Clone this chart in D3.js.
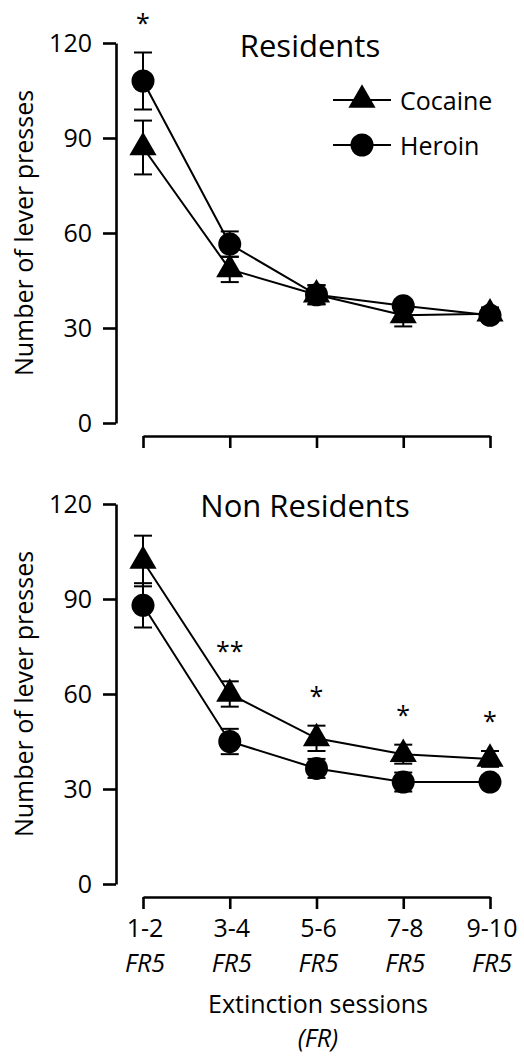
<!DOCTYPE html>
<html>
<head>
<meta charset="utf-8">
<script src="https://cdn.jsdelivr.net/npm/d3@7"></script>
<style>
  body { margin: 0; background: #fff; }
  text { font-family: "Open Sans", sans-serif; fill: #000; }
</style>
</head>
<body>
<div id="chart"></div>
<script>
// categories + ticks
var sessions = ["1-2", "3-4", "5-6", "7-8", "9-10"];
var schedule = ["FR5", "FR5", "FR5", "FR5", "FR5"];
var yTicks = [0, 30, 60, 90, 120];

// Residents
var resCocaine = [87, 48.5, 40.5, 34, 34.5];
var resCocaineErr = [8.5, 4, 3, 3.5, 2];
var resHeroin = [108, 56.5, 40.5, 37, 34];
var resHeroinErr = [9, 4, 3, 2, 2];
var resSig = ["*", "", "", "", ""];

// Non Residents
var nonCocaine = [102, 60, 46, 41, 39.5];
var nonCocaineErr = [8, 4, 4, 3, 2.5];
var nonHeroin = [88, 45, 36.5, 32.2, 32.2];
var nonHeroinErr = [7, 4, 3, 3, 2];
var nonSig = ["", "**", "*", "*", "*"];

var width = 524, height = 1056;

var svg = d3.select("#chart").append("svg")
  .attr("width", width)
  .attr("height", height);

svg.append("rect").attr("width", width).attr("height", height).attr("fill", "#fff");

var panels = [
  {title: "Residents", titleX: 310, titleY: 57, top: 43, bottom: 423,
   cocaine: resCocaine, cocaineErr: resCocaineErr, heroin: resHeroin, heroinErr: resHeroinErr,
   sig: resSig, labels: false, legend: true},
  {title: "Non Residents", titleX: 305, titleY: 517, top: 504, bottom: 884,
   cocaine: nonCocaine, cocaineErr: nonCocaineErr, heroin: nonHeroin, heroinErr: nonHeroinErr,
   sig: nonSig, labels: true, legend: false}
];

var axisX = 116;
var x = d3.scalePoint().domain(sessions).range([143, 490]);

var triangle = d3.symbol().type(d3.symbolTriangle).size(320);

panels.forEach(function(p) {
  var y = d3.scaleLinear().domain([0, 120]).range([p.bottom, p.top]);
  var g = svg.append("g");

  // y axis
  var ya = g.append("g")
    .attr("transform", "translate(" + axisX + ",0)")
    .call(d3.axisLeft(y).tickValues(yTicks).tickSize(13).tickSizeOuter(0).tickPadding(11));
  ya.selectAll("path, line").attr("stroke", "#000").attr("stroke-width", 2.6);
  ya.selectAll("text").attr("font-size", 25).attr("font-family", "Open Sans, sans-serif").attr("fill", "#000");

  // x axis sits a bit below zero
  var xa = g.append("g")
    .attr("transform", "translate(0," + (y(0) + 13) + ")")
    .call(d3.axisBottom(x).tickSize(12).tickSizeOuter(0).tickFormat(""));
  xa.selectAll("path, line").attr("stroke", "#000").attr("stroke-width", 2.6);

  if (p.labels) {
    var lab = xa.selectAll(".lab").data(sessions).enter().append("text")
      .attr("class", "lab")
      .attr("text-anchor", "middle")
      .attr("font-size", 25)
      .attr("transform", function(d) { return "translate(" + (x(d) + 2) + ",0)"; });
    lab.append("tspan").attr("x", 0).attr("y", 40).text(function(d) { return d; });
    lab.append("tspan").attr("x", 0).attr("y", 75).attr("font-style", "italic")
      .text(function(d, i) { return schedule[i]; });
  }

  // y axis title
  g.append("text")
    .attr("transform", "translate(33," + ((p.top + p.bottom) / 2) + ") rotate(-90)")
    .attr("text-anchor", "middle")
    .attr("font-size", 25)
    .text("Number of lever presses");

  g.append("text")
    .attr("x", p.titleX).attr("y", p.titleY)
    .attr("text-anchor", "middle")
    .attr("font-size", 31)
    .text(p.title);

  var series = [
    {name: "Cocaine", vals: p.cocaine, err: p.cocaineErr, shape: "tri"},
    {name: "Heroin", vals: p.heroin, err: p.heroinErr, shape: "circ"}
  ];

  var line = d3.line()
    .x(function(d, i) { return x(sessions[i]); })
    .y(function(d) { return y(d); });

  series.forEach(function(s) {
    g.append("path")
      .attr("d", line(s.vals))
      .attr("fill", "none")
      .attr("stroke", "#000")
      .attr("stroke-width", 2);

    var eb = g.selectAll(".eb-" + s.shape).data(s.vals).enter().append("g")
      .attr("class", "eb-" + s.shape);
    eb.append("line")
      .attr("x1", function(d, i) { return x(sessions[i]); })
      .attr("x2", function(d, i) { return x(sessions[i]); })
      .attr("y1", function(d, i) { return y(d + s.err[i]); })
      .attr("y2", function(d, i) { return y(d - s.err[i]); });
    eb.append("line")
      .attr("x1", function(d, i) { return x(sessions[i]) - 9; })
      .attr("x2", function(d, i) { return x(sessions[i]) + 9; })
      .attr("y1", function(d, i) { return y(d + s.err[i]); })
      .attr("y2", function(d, i) { return y(d + s.err[i]); });
    eb.append("line")
      .attr("x1", function(d, i) { return x(sessions[i]) - 9; })
      .attr("x2", function(d, i) { return x(sessions[i]) + 9; })
      .attr("y1", function(d, i) { return y(d - s.err[i]); })
      .attr("y2", function(d, i) { return y(d - s.err[i]); });
    eb.selectAll("line").attr("stroke", "#000").attr("stroke-width", 2);
  });

  series.forEach(function(s) {
    if (s.shape == "circ") {
      g.selectAll(".m-circ").data(s.vals).enter().append("circle")
        .attr("class", "m-circ")
        .attr("cx", function(d, i) { return x(sessions[i]); })
        .attr("cy", function(d) { return y(d); })
        .attr("r", 11.5)
        .attr("fill", "#000");
    } else {
      g.selectAll(".m-tri").data(s.vals).enter().append("path")
        .attr("class", "m-tri")
        .attr("d", triangle)
        .attr("transform", function(d, i) { return "translate(" + x(sessions[i]) + "," + y(d) + ")"; })
        .attr("fill", "#000");
    }
  });

  // significance stars, placed above the higher error bar
  g.selectAll(".sig").data(p.sig).enter().append("text")
    .attr("class", "sig")
    .attr("text-anchor", "middle")
    .attr("font-size", 25)
    .attr("x", function(d, i) { return x(sessions[i]); })
    .attr("y", function(d, i) {
      var top = Math.max(p.cocaine[i] + p.cocaineErr[i], p.heroin[i] + p.heroinErr[i]);
      return y(top) - 21;
    })
    .text(function(d) { return d; });

  if (p.legend) {
    var leg = g.append("g");
    var items = [{name: "Cocaine", shape: "tri", y: 100}, {name: "Heroin", shape: "circ", y: 145}];
    items.forEach(function(it) {
      leg.append("line")
        .attr("x1", 333).attr("x2", 391)
        .attr("y1", it.y).attr("y2", it.y)
        .attr("stroke", "#000").attr("stroke-width", 2);
      if (it.shape == "tri") {
        leg.append("path").attr("d", triangle).attr("transform", "translate(362," + it.y + ")").attr("fill", "#000");
      } else {
        leg.append("circle").attr("cx", 362).attr("cy", it.y).attr("r", 11.5).attr("fill", "#000");
      }
      leg.append("text")
        .attr("x", 400).attr("y", it.y + 10)
        .attr("font-size", 25)
        .text(it.name);
    });
  }
});

// x axis title at the bottom
svg.append("text")
  .attr("x", 318).attr("y", 1013)
  .attr("text-anchor", "middle")
  .attr("font-size", 25)
  .text("Extinction sessions");
svg.append("text")
  .attr("x", 318).attr("y", 1047)
  .attr("text-anchor", "middle")
  .attr("font-size", 25)
  .attr("font-style", "italic")
  .text("(FR)");
</script>
</body>
</html>
